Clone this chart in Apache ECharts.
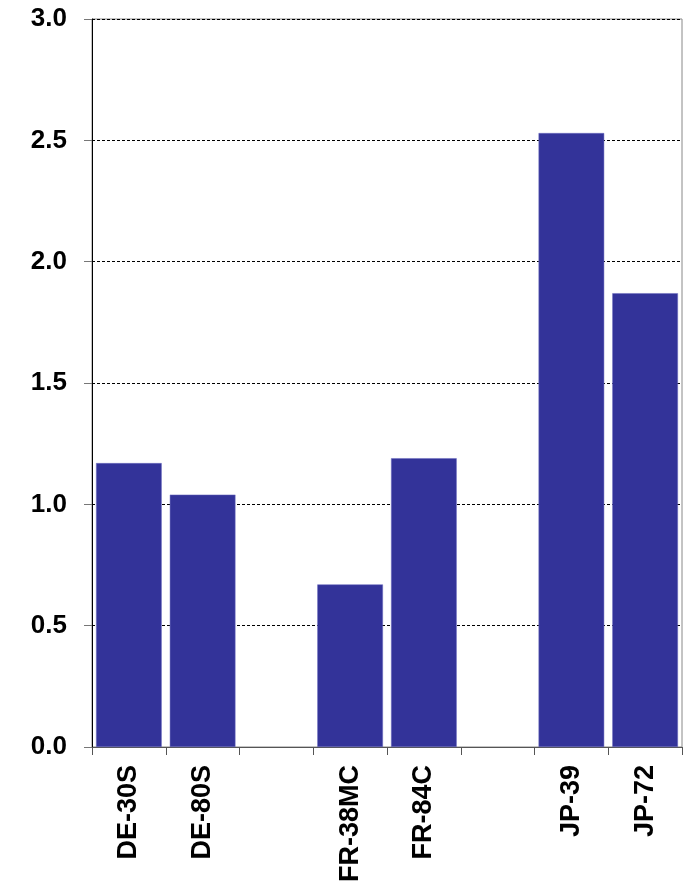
<!DOCTYPE html>
<html>
<head>
<meta charset="utf-8">
<script src="https://cdn.jsdelivr.net/npm/echarts@6/dist/echarts.min.js"></script>
<style>
html, body { margin: 0; padding: 0; background: #fff; }
#chart { width: 694px; height: 892px; }
</style>
</head>
<body>
<div id="chart"></div>
<script>
// categories, with empty slots between the country groups
var categories = ['DE-30S', 'DE-80S', '', 'FR-38MC', 'FR-84C', '', 'JP-39', 'JP-72'];
var values = [1.17, 1.04, '-', 0.67, 1.19, '-', 2.53, 1.87];
var yTicks = { min: 0, max: 3, interval: 0.5 };

var chart = echarts.init(document.getElementById('chart'));
chart.setOption({
    animation: false,
    grid: {
        left: 92,
        right: 12,
        top: 19,
        bottom: 145,
        show: true,
        borderColor: '#888',
        borderWidth: 1
    },
    xAxis: {
        type: 'category',
        data: categories,
        axisLine: { lineStyle: { color: '#555', width: 1 } },
        axisTick: { show: true, interval: 0, length: 8, lineStyle: { color: '#555' } },
        axisLabel: {
            interval: 0,
            rotate: 90,
            margin: 18,
            color: '#000',
            fontFamily: 'Liberation Sans, Arial, sans-serif',
            fontWeight: 'bold',
            fontSize: 27
        }
    },
    yAxis: {
        type: 'value',
        min: yTicks.min,
        max: yTicks.max,
        interval: yTicks.interval,
        axisLine: { show: true, lineStyle: { color: '#000', width: 1 } },
        axisTick: { show: true, length: 8, lineStyle: { color: '#777' } },
        splitLine: { lineStyle: { color: '#000', type: [3, 2], width: 1 } },
        axisLabel: {
            margin: 25,
            color: '#000',
            fontFamily: 'Liberation Sans, Arial, sans-serif',
            fontWeight: 'bold',
            fontSize: 26,
            formatter: function (v) { return v.toFixed(1); }
        }
    },
    series: [{
        type: 'bar',
        data: values,
        barCategoryGap: '11%',
        itemStyle: { color: '#333399', borderColor: '#6b6bbf', borderWidth: 0.5 }
    }]
});
</script>
</body>
</html>
